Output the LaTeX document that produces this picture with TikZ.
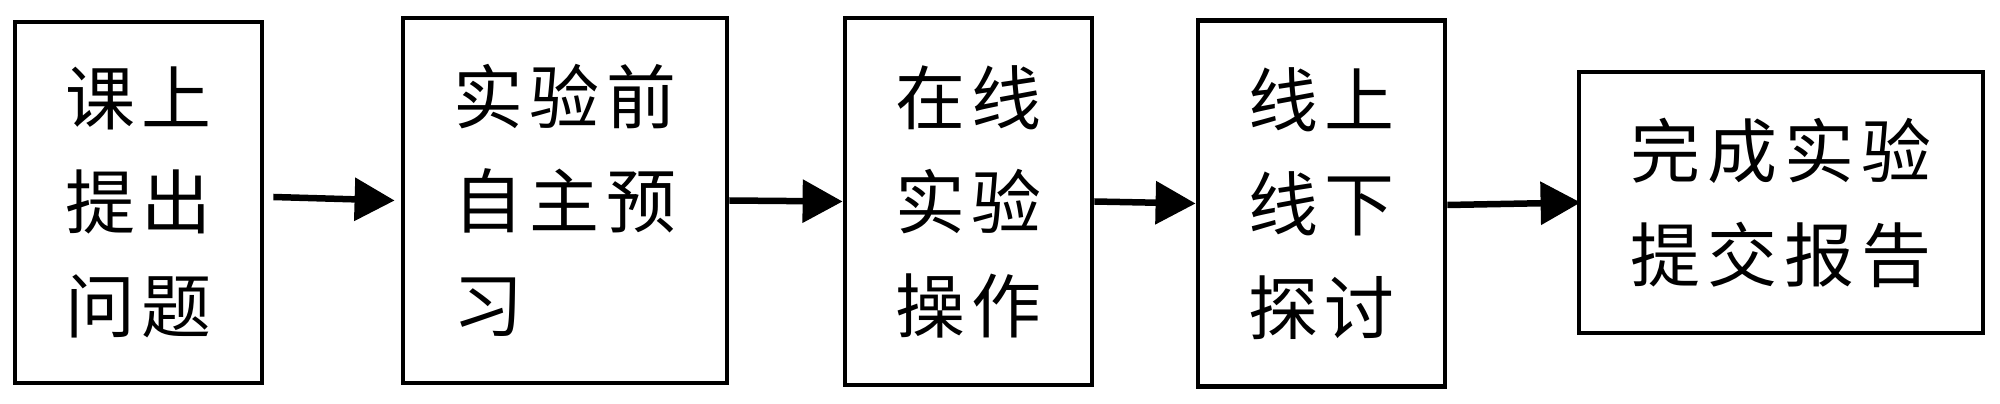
\documentclass[tikz,border=0pt]{standalone}
\usepackage{fontspec}
\usetikzlibrary{arrows.meta}
\newfontfamily\cjkfont[LetterSpace=10]{Noto Sans CJK SC}

\begin{document}
\begin{tikzpicture}[x=0.1mm,y=-0.1mm,
        stage/.style={draw,line width=0.48mm,inner sep=0pt,
            font=\cjkfont\fontsize{19.9pt}{29.6pt}\selectfont},
        flow/.style={line width=0.65mm,-{Triangle[length=4mm,width=4.2mm]}}]
        \useasboundingbox (0,0) rectangle (2000,404);
        \node[stage,minimum width=24.7mm,minimum height=36.1mm,align=center] (ask) at (138.5,202.5) {课上\\提出\\问题};
        \node[stage,minimum width=32.4mm,minimum height=36.5mm,align=left] (prep) at (565,200.5) {实验前\\自主预\\习};
        \node[stage,minimum width=24.7mm,minimum height=36.7mm,align=center] (online) at (968.5,201.5) {在线\\实验\\操作};
        \node[stage,minimum width=24.7mm,minimum height=36.6mm,align=center] (discuss) at (1321.5,203.5) {线上\\线下\\探讨};
        \node[stage,minimum width=40.4mm,minimum height=26.1mm,align=center] (report) at (1781,202.5) {完成实验\\提交报告};
        \draw[flow] ([xshift=0.9mm,yshift=0.55mm]ask.east) -- ([xshift=-0.6mm]prep.west);
        \draw[flow] (prep.east) -- (online.west);
        \draw[flow] (online.east) -- (discuss.west);
        \draw[flow] ([yshift=-0.15mm]discuss.east) -- ([xshift=0.4mm]report.west);
    \end{tikzpicture}
\end{document}
